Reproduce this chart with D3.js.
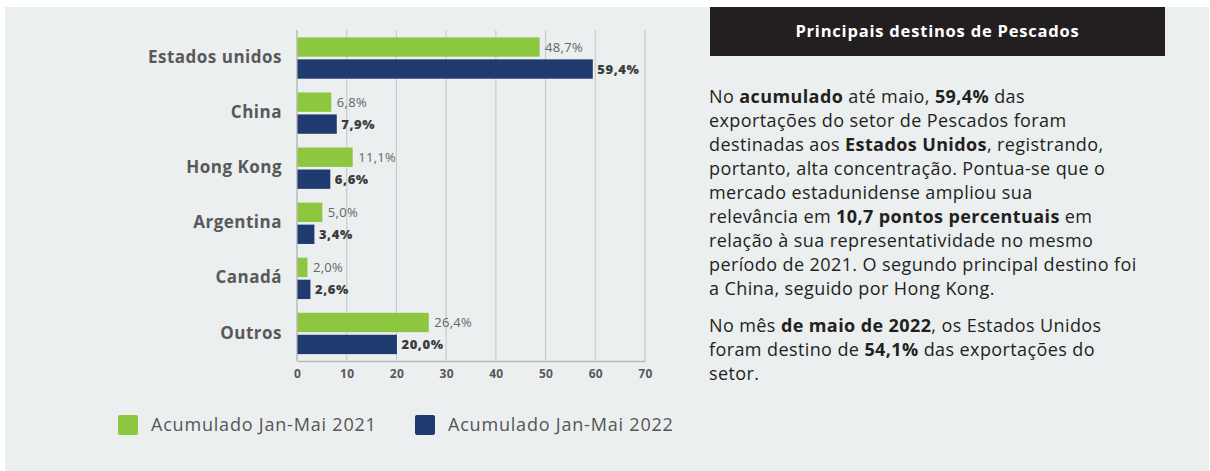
<!DOCTYPE html>
<html><head><meta charset="utf-8">
<script src="https://cdn.jsdelivr.net/npm/d3@7"></script>
<style>
html,body{margin:0;padding:0;background:#fff;}
svg{display:block;font-family:"Open Sans",sans-serif;}
</style></head>
<body>
<svg id="c" width="1210" height="471"></svg>
<script>
const categories = ["Estados unidos","China","Hong Kong","Argentina","Canadá","Outros"];
const values2021 = [48.7, 6.8, 11.1, 5.0, 2.0, 26.4];
const values2022 = [59.4, 7.9, 6.6, 3.4, 2.6, 20.0];
const labels2021 = ["48,7%","6,8%","11,1%","5,0%","2,0%","26,4%"];
const labels2022 = ["59,4%","7,9%","6,6%","3,4%","2,6%","20,0%"];
const xTicks = [0,10,20,30,40,50,60,70];
const seriesNames = ["Acumulado Jan-Mai 2021","Acumulado Jan-Mai 2022"];
const titleText = "Principais destinos de Pescados";
const para1 = [
  [["No ",0],["acumulado",1],[" até maio, ",0],["59,4%",1],[" das",0]],
  [["exportações do setor de Pescados foram",0]],
  [["destinadas aos ",0],["Estados Unidos",1],[", registrando,",0]],
  [["portanto, alta concentração. Pontua-se que o",0]],
  [["mercado estadunidense ampliou sua",0]],
  [["relevância em ",0],["10,7 pontos percentuais",1],[" em",0]],
  [["relação à sua representatividade no mesmo",0]],
  [["período de 2021. O segundo principal destino foi",0]],
  [["a China, seguido por Hong Kong.",0]]
];
const para2 = [
  [["No mês ",0],["de maio de 2022",1],[", os Estados Unidos",0]],
  [["foram destino de ",0],["54,1%",1],[" das exportações do",0]],
  [["setor.",0]]
];

const colors = ["#8dc63f","#1f3a6e"];
const svg = d3.select("#c");

// background panel
svg.append("rect").attr("x",5).attr("y",7).attr("width",1204).attr("height",464).attr("fill","#ebeff0");

const x = d3.scaleLinear().domain([0,70]).range([297,645]);
const y = d3.scaleBand().domain(categories).range([30.5,361]).paddingInner(0.25).paddingOuter(0.125);
const y1 = d3.scaleBand().domain([0,1]).range([0,y.bandwidth()]).paddingInner(0.12);

// gridlines
svg.append("g").selectAll("line").data(xTicks.slice(1)).join("line")
  .attr("x1",d=>x(d)).attr("x2",d=>x(d)).attr("y1",30).attr("y2",361)
  .attr("stroke","#c9cccd").attr("stroke-width",1.2);

// x axis
const xAxis = d3.axisBottom(x).tickValues(xTicks).tickSize(0).tickPadding(8).tickFormat(d3.format("d"));
const gx = svg.append("g").attr("transform","translate(0,361)").call(xAxis);
gx.select(".domain").attr("stroke","#b8bbbc").attr("stroke-width",1.5);
gx.selectAll("text").attr("font-size",12).attr("font-weight",700).attr("fill","#595959")
  .attr("font-family","'Open Sans',sans-serif").attr("letter-spacing",0.3);

// y axis line
svg.append("line").attr("x1",x(0)).attr("x2",x(0)).attr("y1",30).attr("y2",361).attr("stroke","#b8bbbc").attr("stroke-width",1.5);

// category labels
const yAxis = d3.axisLeft(y).tickSize(0).tickPadding(15);
const gy = svg.append("g").attr("transform",`translate(${x(0)},0)`).call(yAxis);
gy.select(".domain").remove();
gy.selectAll("text").attr("font-size",17).attr("font-weight",700).attr("fill","#595959")
  .attr("font-family","'Open Sans',sans-serif").attr("letter-spacing",0.5).attr("dy","0.3em");

const series = [values2021, values2022];
const labs = [labels2021, labels2022];
series.forEach((vals,si)=>{
  const g = svg.append("g");
  g.selectAll("rect").data(categories).join("rect")
    .attr("x",x(0)+0.5).attr("y",(c)=>y(c)+y1(si))
    .attr("width",(c,i)=>x(vals[i])-x(0)).attr("height",y1.bandwidth())
    .attr("fill",colors[si]);
  g.selectAll("text").data(categories).join("text")
    .attr("x",(c,i)=>x(vals[i])+(si?5:6)).attr("y",(c)=>y(c)+y1(si)+y1.bandwidth()/2)
    .attr("dy","0.35em").attr("font-size",13).attr("font-weight",si?800:400)
    .attr("letter-spacing",si?0.6:0.3)
    .attr("fill",si?"#3d3d3d":"#666").text((c,i)=>labs[si][i]);
});

// legend
const legX = [118,415];
seriesNames.forEach((n,i)=>{
  svg.append("rect").attr("x",legX[i]).attr("y",415).attr("width",20).attr("height",20).attr("rx",2).attr("fill",colors[i]);
  svg.append("text").attr("x",legX[i]+33).attr("y",425).attr("dy","0.35em").attr("font-size",18)
    .attr("letter-spacing",0.8).attr("fill","#555").text(n);
});

// title box
svg.append("rect").attr("x",710).attr("y",7).attr("width",455).attr("height",49).attr("fill","#231f20");
svg.append("text").attr("x",937.5).attr("y",31.5).attr("dy","0.35em").attr("text-anchor","middle")
  .attr("font-size",16.5).attr("font-weight",700).attr("letter-spacing",0.8).attr("fill","#fff").text(titleText);

function para(lines, y0){
  const t = svg.append("text").attr("font-size",18).attr("letter-spacing",0.4).attr("fill","#231f20");
  lines.forEach((segs,li)=>{
    segs.forEach((s,si)=>{
      const ts = t.append("tspan").text(s[0]).attr("font-weight",s[1]?700:400);
      if(si===0) ts.attr("x",709).attr("y",y0+li*24);
    });
  });
}
para(para1,103);
para(para2,332);
</script>
</body></html>
